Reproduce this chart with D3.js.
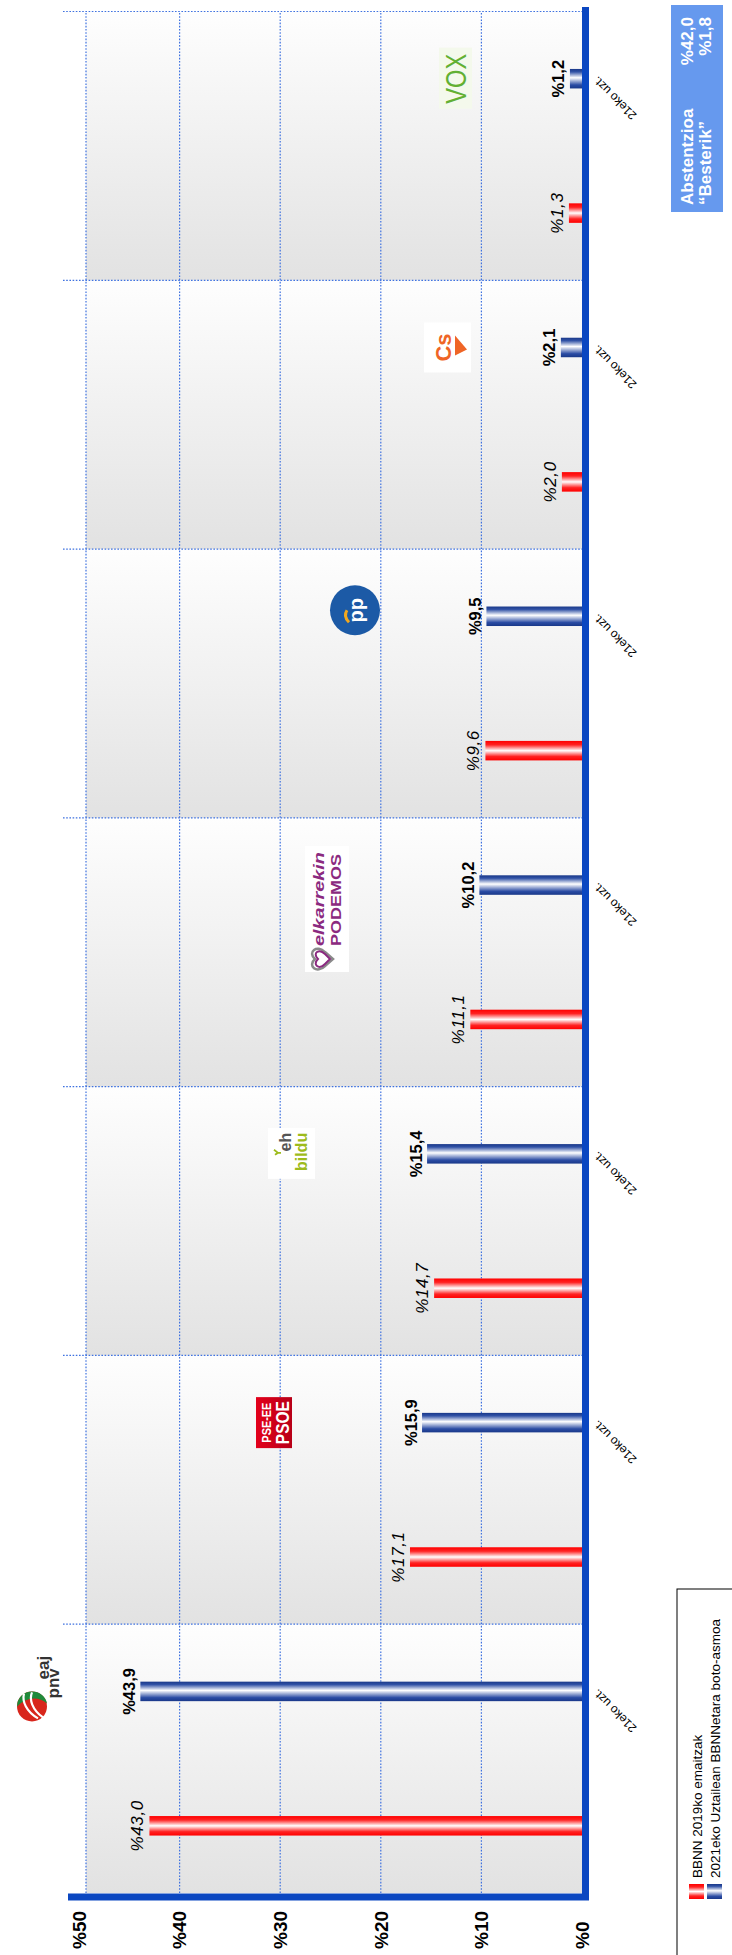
<!DOCTYPE html>
<html><head><meta charset="utf-8">
<script src="https://cdn.jsdelivr.net/npm/d3@7"></script>
<style>html,body{margin:0;padding:0;background:#fff;} svg{display:block;font-family:Arial,"Liberation Sans",sans-serif;}</style>
</head><body><svg id="chart" width="732" height="1955"></svg>
<script>
const parties = ["EAJ-PNV","PSE-EE (PSOE)","EH Bildu","Elkarrekin Podemos","PP","Cs","Vox"];
const results2019 = [43.0,17.1,14.7,11.1,9.6,2.0,1.3];
const intention2021 = [43.9,15.9,15.4,10.2,9.5,2.1,1.2];
const valueTicks = [0,10,20,30,40,50];
const periodLabel = "21eko uzt.";
const seriesNames = ["BBNN 2019ko emaitzak","2021eko Uztailean BBNNetara boto-asmoa"];
const extraLabels = ["Abstentzioa","“Besterik”"];
const extraValues = [42.0,1.8];

const fmt = v => "%" + d3.format(".1f")(v).replace(".", ",");
const W = 1955;
const svg = d3.select("#chart");
const defs = svg.append("defs");
function grad(id, stops, vertical){
  const lg = defs.append("linearGradient").attr("id",id)
    .attr("x1",0).attr("y1",0).attr("x2",vertical?0:1).attr("y2",vertical?1:0);
  stops.forEach(([o,c]) => lg.append("stop").attr("offset",o).attr("stop-color",c));
}
grad("gRed", [[0,"#ff0000"],[0.2,"#ff2222"],[0.5,"#ffffff"],[0.8,"#ff2222"],[1,"#ff0000"]]);
grad("gBlue", [[0,"#193889"],[0.18,"#2b4ca4"],[0.55,"#ffffff"],[0.85,"#3152a6"],[1,"#193889"]]);
grad("gBand", [[0,"#e2e2e2"],[1,"#fefefe"]]);
grad("gPsoe", [[0,"#e3001b"],[1,"#b80018"]], true);

// landscape drawing, rotated into the portrait page
const g = svg.append("g").attr("transform", `translate(0,${W}) rotate(-90)`);

const plotLeft = 62, plotRight = 1943.5, plotTop = 86;
const x = d3.scaleBand().domain(parties).range([plotLeft, plotRight]);
const y = d3.scaleLinear().domain([0,50]).range([582, 79]);
const bw = x.bandwidth(), barW = 19.5;
const redC = p => x(p) + bw*0.25, blueC = p => x(p) + bw*0.75;

// band backgrounds
g.selectAll("rect.band").data(parties).join("rect").attr("class","band")
  .attr("x", d => x(d)).attr("width", bw)
  .attr("y", plotTop).attr("height", y(0) - plotTop)
  .attr("fill", "url(#gBand)");

const dot = sel => sel.attr("stroke","#3f72e0").attr("stroke-width",1.2).attr("stroke-dasharray","1.6,1.6").attr("fill","none");
g.selectAll("line.grid").data(valueTicks.filter(t => t > 0 && t < 50)).join("line").attr("class","grid")
  .attr("x1", plotLeft).attr("x2", plotRight).attr("y1", d => y(d)).attr("y2", d => y(d)).call(dot);
g.append("line").attr("x1", plotLeft).attr("x2", plotRight).attr("y1", plotTop).attr("y2", plotTop).call(dot);
const divs = parties.slice(1).map(p => x(p)).concat([plotRight]);
g.selectAll("line.div").data(divs).join("line").attr("class","div")
  .attr("x1", d => d).attr("x2", d => d).attr("y1", 63).attr("y2", y(0)).call(dot);

// bars
g.selectAll("rect.r").data(parties).join("rect").attr("class","r")
  .attr("x", d => redC(d) - barW/2).attr("width", barW)
  .attr("y", (d,i) => y(results2019[i])).attr("height", (d,i) => y(0) - y(results2019[i]))
  .attr("fill","url(#gRed)");
g.selectAll("rect.b").data(parties).join("rect").attr("class","b")
  .attr("x", d => blueC(d) - barW/2).attr("width", barW)
  .attr("y", (d,i) => y(intention2021[i])).attr("height", (d,i) => y(0) - y(intention2021[i]))
  .attr("fill","url(#gBlue)");

// bar labels
g.selectAll("text.rl").data(parties).join("text").attr("class","rl")
  .attr("x", d => redC(d)).attr("y", (d,i) => y(results2019[i]) - 6)
  .attr("text-anchor","middle").attr("font-size",17).attr("font-style","italic")
  .attr("letter-spacing",0.6).attr("fill","#000")
  .text((d,i) => fmt(results2019[i]));
g.selectAll("text.bl").data(parties).join("text").attr("class","bl")
  .attr("x", d => blueC(d)).attr("y", (d,i) => y(intention2021[i]) - 5.5)
  .attr("text-anchor","middle").attr("font-size",16.5).attr("font-weight","bold").attr("fill","#000")
  .text((d,i) => fmt(intention2021[i]));

// axes
g.append("line").attr("x1", 55).attr("x2", 1948).attr("y1", 585.5).attr("y2", 585.5)
  .attr("stroke","#0b47c1").attr("stroke-width",7);
g.append("line").attr("x1", 58).attr("x2", 58).attr("y1", 68).attr("y2", 589)
  .attr("stroke","#0b47c1").attr("stroke-width",7);

// value tick labels
g.selectAll("text.vt").data(valueTicks).join("text").attr("class","vt")
  .attr("x", 6).attr("y", d => y(d)).attr("dy","0.36em")
  .attr("font-size",19).attr("font-weight","bold").attr("fill","#000")
  .text(d => "%" + d);

// period labels
g.selectAll("text.per").data(parties).join("text").attr("class","per")
  .attr("transform", d => `translate(${blueC(d)+3},598) rotate(-45)`)
  .attr("text-anchor","end").attr("font-size",12).attr("fill","#000")
  .text(periodLabel);

// legend
const lg = g.append("g");
lg.append("rect").attr("x",-5).attr("y",677).attr("width",371).attr("height",80)
  .attr("fill","#fff").attr("stroke","#000").attr("stroke-width",1);
seriesNames.forEach((s,i) => {
  const yy = [689, 707][i];
  lg.append("rect").attr("x",56).attr("y",yy).attr("width",15).attr("height",15)
    .attr("fill", i ? "url(#gBlue)" : "url(#gRed)");
  lg.append("text").attr("x",77).attr("y",yy+13).attr("font-size",13.5).attr("fill","#000").text(s);
});

// abstention box
const ab = g.append("g");
ab.append("rect").attr("x",1743).attr("y",671).attr("width",207).attr("height",52).attr("fill","#6699ee");
extraLabels.forEach((s,i) => {
  const yy = [693, 711][i];
  ab.append("text").attr("x",1750).attr("y",yy).attr("font-size",17).attr("font-weight","bold").attr("fill","#fff").text(s);
  ab.append("text").attr("x",1938).attr("y",yy).attr("text-anchor","end").attr("font-size",17).attr("font-weight","bold").attr("fill","#fff").text(fmt(extraValues[i]));
});

// ---- logos (drawn above the 2021 bar of each party) ----
function logo(i, cy, dx){ return g.append("g").attr("transform", `translate(${blueC(parties[i]) + (dx||0)},${cy})`); }
// EAJ-PNV
{
  const L = logo(0, 40);
  L.append("circle").attr("cx",-15).attr("cy",-8).attr("r",15).attr("fill","#d8261c");
  L.append("path").attr("d","M-15,-23 A15,15 0 0 1 0,-8 A15,15 0 0 1 -12,7 C-4,-2 -6,-14 -15,-23Z").attr("fill","#1f8a3a");
  L.append("path").attr("d","M-27,-2 C-20,-14 -10,-18 -2,-16 M-26,3 C-18,-8 -8,-11 -1,-8").attr("stroke","#fff").attr("stroke-width",2.2).attr("fill","none");
  L.append("text").attr("x",12).attr("y",9).attr("font-size",17).attr("font-weight","bold").attr("fill","#333").text("eaj");
  L.append("text").attr("x",-7).attr("y",19).attr("font-size",17).attr("font-weight","bold").attr("fill","#333").text("pnv");
}
// PSE-EE PSOE
{
  const L = logo(1, 274);
  L.append("rect").attr("x",-25.5).attr("y",-18).attr("width",51).attr("height",36).attr("fill","url(#gPsoe)");
  L.append("text").attr("x",0).attr("y",-3).attr("text-anchor","middle").attr("font-size",12).attr("font-weight","bold").attr("fill","#fff")
    .attr("textLength",40).attr("lengthAdjust","spacingAndGlyphs").text("PSE-EE");
  L.append("text").attr("x",0).attr("y",15).attr("text-anchor","middle").attr("font-size",18).attr("font-weight","bold").attr("fill","#fff")
    .attr("textLength",43).attr("lengthAdjust","spacingAndGlyphs").text("PSOE");
}
// EH Bildu
{
  const L = logo(2, 292);
  L.append("rect").attr("x",-25).attr("y",-24).attr("width",51).attr("height",47).attr("fill","#fff");
  L.append("path").attr("d","M-1,-17 l2,3 l3,-4 M1,-14 l0,3").attr("stroke","#9dbb1c").attr("stroke-width",1.8).attr("fill","none");
  L.append("text").attr("x",21).attr("y",-1).attr("text-anchor","end").attr("font-size",16).attr("font-weight","bold").attr("fill","#555").text("eh");
  L.append("text").attr("x",21).attr("y",15).attr("text-anchor","end").attr("font-size",16).attr("font-weight","bold").attr("fill","#9dbb1c").text("bildu");
}
// Elkarrekin Podemos
{
  const L = logo(3, 327, -25);
  L.append("rect").attr("x",-62).attr("y",-22).attr("width",126).attr("height",44).attr("fill","#fff");
  L.append("path").attr("d","M-56,-2 C-64,-10 -56,-20 -49,-12 C-42,-20 -34,-10 -42,-2 L-49,6 Z").attr("fill","none").attr("stroke","#8a8a8a").attr("stroke-width",2.5);
  L.append("path").attr("d","M-54,-2 C-60,-8 -55,-15 -49,-9 C-43,-15 -38,-8 -44,-2 L-49,3 Z").attr("fill","none").attr("stroke","#8b2a80").attr("stroke-width",2);
  L.append("text").attr("x",-36).attr("y",-3).attr("font-size",15).attr("font-weight","bold").attr("font-style","italic").attr("fill","#8b2a80")
    .attr("textLength",94).attr("lengthAdjust","spacingAndGlyphs").text("elkarrekin");
  L.append("text").attr("x",-36).attr("y",14).attr("font-size",15).attr("font-weight","bold").attr("fill","#8b2a80")
    .attr("textLength",92).attr("lengthAdjust","spacingAndGlyphs").text("PODEMOS");
}
// PP
{
  const L = logo(4, 355);
  L.append("circle").attr("cx",6).attr("cy",0).attr("r",25).attr("fill","#1c5aa6");
  L.append("path").attr("d","M-6,-6 q6,-6 12,-2").attr("stroke","#f4a81d").attr("stroke-width",3).attr("fill","none");
  L.append("text").attr("x",6).attr("y",8).attr("text-anchor","middle").attr("font-size",20).attr("font-weight","bold").attr("fill","#fff").text("pp");
}
// Cs
{
  const L = logo(5, 447);
  L.append("rect").attr("x",-25).attr("y",-23).attr("width",50).attr("height",47).attr("fill","#fff");
  L.append("text").attr("x",0).attr("y",4).attr("text-anchor","middle").attr("font-size",22).attr("font-weight","bold").attr("fill","#ef6526").text("Cs");
  L.append("path").attr("d","M-8,8 L12,8 L-2,20 Z").attr("fill","#ef6526");
}
// VOX
{
  const L = logo(6, 455);
  L.append("rect").attr("x",-30).attr("y",-16).attr("width",61).attr("height",33).attr("fill","#f4f9ec");
  L.append("text").attr("x",0).attr("y",11).attr("text-anchor","middle").attr("font-size",30).attr("fill","#62b033")
    .attr("textLength",50).attr("lengthAdjust","spacingAndGlyphs").text("VOX");
}
</script></body></html>
